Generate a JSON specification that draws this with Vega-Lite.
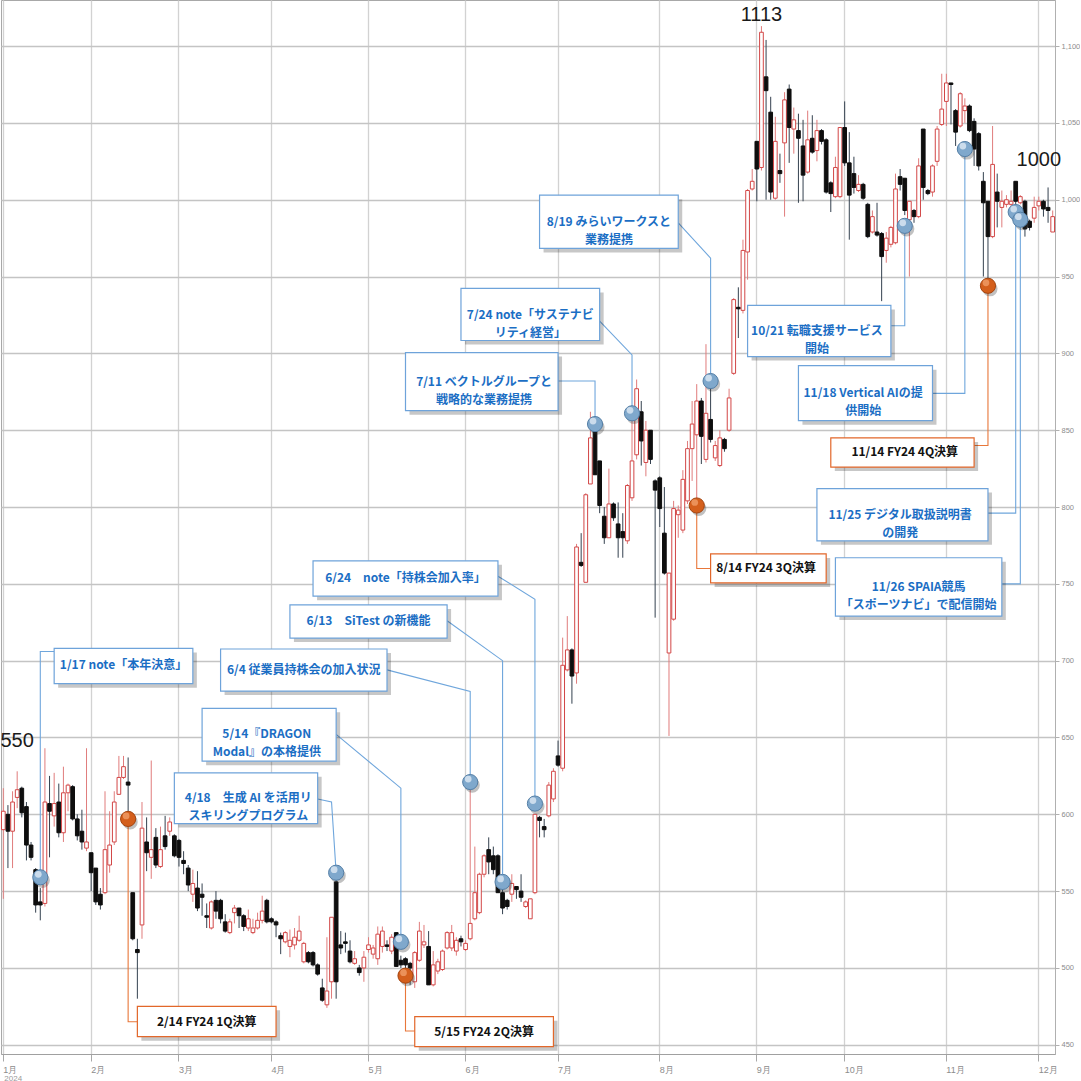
{
"$schema": "https://vega.github.io/schema/vega-lite/v6.json",
"width": 1054, "height": 1054, "padding": 0, "autosize": {"type": "pad"},
"background": "white",
"config": {"view": {"stroke": "#a8a8a8"}, "axis": {"labelFont": "Liberation Sans"}},
"datasets": {
"candles": [
{"d":"2024-01-04","o":590,"h":617,"l":545,"c":602},{"d":"2024-01-05","o":600,"h":606,"l":565,"c":589},{"d":"2024-01-09","o":589,"h":615,"l":565,"c":608},{"d":"2024-01-10","o":611,"h":628,"l":604,"c":616},{"d":"2024-01-11","o":617,"h":618,"l":598,"c":601},{"d":"2024-01-12","o":605,"h":608,"l":570,"c":580},{"d":"2024-01-15","o":580,"h":582,"l":570,"c":572},{"d":"2024-01-16","o":564,"h":565,"l":536,"c":541},{"d":"2024-01-17","o":543,"h":552,"l":531,"c":541},{"d":"2024-01-18","o":542,"h":643,"l":540,"c":608},
{"d":"2024-01-19","o":607,"h":625,"l":572,"c":602},{"d":"2024-01-22","o":599,"h":627,"l":592,"c":607},{"d":"2024-01-23","o":608,"h":620,"l":585,"c":588},{"d":"2024-01-24","o":588,"h":631,"l":582,"c":614},{"d":"2024-01-25","o":614,"h":620,"l":602,"c":619},{"d":"2024-01-26","o":618,"h":619,"l":596,"c":597},{"d":"2024-01-29","o":597,"h":600,"l":583,"c":586},{"d":"2024-01-30","o":589,"h":603,"l":577,"c":582},{"d":"2024-01-31","o":578,"h":643,"l":576,"c":582},
{"d":"2024-02-01","o":575,"h":575,"l":550,"c":562},{"d":"2024-02-02","o":565,"h":565,"l":541,"c":543},{"d":"2024-02-05","o":548,"h":552,"l":538,"c":541},{"d":"2024-02-06","o":549,"h":615,"l":548,"c":577},{"d":"2024-02-07","o":567,"h":602,"l":562,"c":580},{"d":"2024-02-08","o":582,"h":615,"l":580,"c":608},{"d":"2024-02-09","o":613,"h":638,"l":613,"c":624},{"d":"2024-02-13","o":624,"h":638,"l":623,"c":631},{"d":"2024-02-14","o":621,"h":637,"l":599,"c":619},{"d":"2024-02-15","o":549,"h":549,"l":518,"c":519},
{"d":"2024-02-16","o":512,"h":519,"l":480,"c":510},{"d":"2024-02-19","o":528,"h":608,"l":519,"c":591},{"d":"2024-02-20","o":582,"h":598,"l":563,"c":575},{"d":"2024-02-21","o":572,"h":635,"l":558,"c":577},{"d":"2024-02-22","o":585,"h":591,"l":565,"c":567},{"d":"2024-02-26","o":566,"h":592,"l":565,"c":577},{"d":"2024-02-27","o":586,"h":599,"l":577,"c":579},{"d":"2024-02-28","o":589,"h":598,"l":586,"c":595},{"d":"2024-02-29","o":586,"h":587,"l":572,"c":573},
{"d":"2024-03-01","o":583,"h":584,"l":566,"c":572},{"d":"2024-03-04","o":570,"h":576,"l":561,"c":568},{"d":"2024-03-05","o":565,"h":567,"l":550,"c":554},{"d":"2024-03-06","o":548,"h":564,"l":543,"c":555},{"d":"2024-03-07","o":552,"h":563,"l":537,"c":539},{"d":"2024-03-08","o":548,"h":555,"l":534,"c":546},{"d":"2024-03-11","o":534,"h":542,"l":526,"c":533},{"d":"2024-03-12","o":526,"h":544,"l":525,"c":543},{"d":"2024-03-13","o":544,"h":550,"l":532,"c":537},{"d":"2024-03-14","o":544,"h":545,"l":529,"c":532},
{"d":"2024-03-15","o":530,"h":535,"l":523,"c":524},{"d":"2024-03-18","o":523,"h":532,"l":522,"c":530},{"d":"2024-03-19","o":536,"h":541,"l":529,"c":539},{"d":"2024-03-21","o":539,"h":539,"l":526,"c":534},{"d":"2024-03-22","o":534,"h":535,"l":524,"c":527},{"d":"2024-03-25","o":526,"h":538,"l":524,"c":532},{"d":"2024-03-26","o":523,"h":532,"l":522,"c":526},{"d":"2024-03-27","o":526,"h":536,"l":525,"c":531},{"d":"2024-03-28","o":531,"h":547,"l":529,"c":537},{"d":"2024-03-29","o":544,"h":545,"l":529,"c":530},
{"d":"2024-04-01","o":532,"h":533,"l":529,"c":530},{"d":"2024-04-02","o":530,"h":531,"l":520,"c":528},{"d":"2024-04-03","o":521,"h":523,"l":509,"c":519},{"d":"2024-04-04","o":517,"h":524,"l":516,"c":523},{"d":"2024-04-05","o":514,"h":525,"l":507,"c":518},{"d":"2024-04-08","o":515,"h":526,"l":512,"c":520},{"d":"2024-04-09","o":518,"h":534,"l":517,"c":524},{"d":"2024-04-10","o":504,"h":517,"l":503,"c":516},{"d":"2024-04-11","o":510,"h":511,"l":503,"c":504},{"d":"2024-04-12","o":510,"h":511,"l":501,"c":502},
{"d":"2024-04-15","o":502,"h":503,"l":495,"c":496},{"d":"2024-04-16","o":487,"h":493,"l":478,"c":479},{"d":"2024-04-17","o":476,"h":520,"l":474,"c":485},{"d":"2024-04-18","o":491,"h":533,"l":480,"c":533},{"d":"2024-04-19","o":556,"h":562,"l":480,"c":491},{"d":"2024-04-22","o":515,"h":524,"l":509,"c":513},{"d":"2024-04-23","o":517,"h":523,"l":510,"c":516},{"d":"2024-04-24","o":511,"h":518,"l":503,"c":504},{"d":"2024-04-25","o":503,"h":511,"l":502,"c":506},{"d":"2024-04-26","o":500,"h":502,"l":495,"c":497},{"d":"2024-04-30","o":500,"h":511,"l":491,"c":507},
{"d":"2024-05-01","o":512,"h":520,"l":510,"c":515},{"d":"2024-05-02","o":509,"h":515,"l":506,"c":513},{"d":"2024-05-07","o":506,"h":527,"l":502,"c":522},{"d":"2024-05-08","o":514,"h":527,"l":510,"c":524},{"d":"2024-05-09","o":515,"h":518,"l":511,"c":514},{"d":"2024-05-10","o":511,"h":522,"l":509,"c":520},{"d":"2024-05-13","o":523,"h":523,"l":501,"c":501},{"d":"2024-05-14","o":505,"h":508,"l":500,"c":502},{"d":"2024-05-15","o":506,"h":507,"l":499,"c":502},{"d":"2024-05-16","o":503,"h":504,"l":489,"c":500},
{"d":"2024-05-17","o":491,"h":511,"l":487,"c":510},{"d":"2024-05-20","o":505,"h":530,"l":504,"c":524},{"d":"2024-05-21","o":515,"h":528,"l":513,"c":517},{"d":"2024-05-22","o":514,"h":524,"l":489,"c":489},{"d":"2024-05-23","o":489,"h":511,"l":488,"c":502},{"d":"2024-05-24","o":498,"h":506,"l":496,"c":504},{"d":"2024-05-27","o":499,"h":512,"l":498,"c":511},{"d":"2024-05-28","o":513,"h":524,"l":512,"c":523},{"d":"2024-05-29","o":513,"h":528,"l":511,"c":523},{"d":"2024-05-30","o":511,"h":520,"l":508,"c":518},{"d":"2024-05-31","o":519,"h":521,"l":514,"c":517},
{"d":"2024-06-03","o":512,"h":518,"l":511,"c":516},{"d":"2024-06-04","o":519,"h":621,"l":518,"c":529},{"d":"2024-06-05","o":532,"h":579,"l":531,"c":549},{"d":"2024-06-06","o":536,"h":562,"l":535,"c":561},{"d":"2024-06-07","o":561,"h":574,"l":559,"c":573},{"d":"2024-06-10","o":577,"h":585,"l":561,"c":569},{"d":"2024-06-11","o":573,"h":579,"l":561,"c":564},{"d":"2024-06-12","o":573,"h":574,"l":549,"c":549},{"d":"2024-06-13","o":549,"h":554,"l":535,"c":539},{"d":"2024-06-14","o":544,"h":545,"l":538,"c":540},
{"d":"2024-06-17","o":548,"h":561,"l":543,"c":555},{"d":"2024-06-18","o":553,"h":553,"l":545,"c":551},{"d":"2024-06-19","o":550,"h":561,"l":543,"c":546},{"d":"2024-06-20","o":540,"h":544,"l":539,"c":543},{"d":"2024-06-21","o":532,"h":545,"l":532,"c":545},{"d":"2024-06-24","o":549,"h":600,"l":548,"c":600},{"d":"2024-06-25","o":598,"h":599,"l":585,"c":596},{"d":"2024-06-26","o":592,"h":597,"l":585,"c":590},{"d":"2024-06-27","o":599,"h":621,"l":598,"c":619},{"d":"2024-06-28","o":610,"h":630,"l":608,"c":628},
{"d":"2024-07-01","o":638,"h":648,"l":631,"c":632},{"d":"2024-07-02","o":630,"h":715,"l":628,"c":697},{"d":"2024-07-03","o":694,"h":729,"l":693,"c":707},{"d":"2024-07-04","o":707,"h":708,"l":672,"c":690},{"d":"2024-07-05","o":692,"h":776,"l":685,"c":774},{"d":"2024-07-08","o":764,"h":783,"l":761,"c":762},{"d":"2024-07-09","o":751,"h":809,"l":751,"c":808},{"d":"2024-07-10","o":815,"h":862,"l":815,"c":845},{"d":"2024-07-11","o":857,"h":859,"l":821,"c":821},{"d":"2024-07-12","o":830,"h":830,"l":796,"c":801},
{"d":"2024-07-16","o":794,"h":800,"l":776,"c":780},{"d":"2024-07-17","o":780,"h":825,"l":780,"c":802},{"d":"2024-07-18","o":802,"h":803,"l":791,"c":793},{"d":"2024-07-19","o":789,"h":803,"l":767,"c":780},{"d":"2024-07-22","o":784,"h":796,"l":767,"c":780},{"d":"2024-07-23","o":778,"h":815,"l":776,"c":814},{"d":"2024-07-24","o":806,"h":865,"l":804,"c":830},{"d":"2024-07-25","o":834,"h":883,"l":831,"c":877},{"d":"2024-07-26","o":862,"h":869,"l":827,"c":843},{"d":"2024-07-29","o":829,"h":856,"l":820,"c":850},{"d":"2024-07-30","o":850,"h":850,"l":828,"c":831},{"d":"2024-07-31","o":817,"h":818,"l":728,"c":811},
{"d":"2024-08-01","o":819,"h":820,"l":787,"c":799},{"d":"2024-08-02","o":783,"h":813,"l":756,"c":757},{"d":"2024-08-05","o":705,"h":757,"l":651,"c":757},{"d":"2024-08-06","o":727,"h":804,"l":726,"c":799},{"d":"2024-08-07","o":795,"h":801,"l":780,"c":798},{"d":"2024-08-08","o":785,"h":824,"l":783,"c":818},{"d":"2024-08-09","o":804,"h":843,"l":802,"c":838},{"d":"2024-08-13","o":838,"h":869,"l":817,"c":854},{"d":"2024-08-14","o":847,"h":880,"l":802,"c":869},{"d":"2024-08-15","o":869,"h":871,"l":828,"c":846},
{"d":"2024-08-16","o":831,"h":906,"l":829,"c":861},{"d":"2024-08-19","o":857,"h":882,"l":842,"c":844},{"d":"2024-08-20","o":832,"h":843,"l":830,"c":840},{"d":"2024-08-21","o":827,"h":850,"l":826,"c":845},{"d":"2024-08-22","o":844,"h":845,"l":836,"c":838},{"d":"2024-08-23","o":850,"h":877,"l":849,"c":871},{"d":"2024-08-26","o":887,"h":936,"l":886,"c":935},{"d":"2024-08-27","o":930,"h":943,"l":910,"c":929},{"d":"2024-08-28","o":928,"h":974,"l":926,"c":967},{"d":"2024-08-29","o":966,"h":1007,"l":948,"c":1006},{"d":"2024-08-30","o":1007,"h":1020,"l":1006,"c":1012},
{"d":"2024-09-02","o":1038,"h":1038,"l":999,"c":1020},{"d":"2024-09-03","o":1021,"h":1113,"l":1019,"c":1109},{"d":"2024-09-04","o":1080,"h":1104,"l":1000,"c":1071},{"d":"2024-09-05","o":1057,"h":1067,"l":1000,"c":1005},{"d":"2024-09-06","o":1001,"h":1054,"l":1000,"c":1038},{"d":"2024-09-09","o":1019,"h":1030,"l":1011,"c":1017},{"d":"2024-09-10","o":1037,"h":1070,"l":989,"c":1065},{"d":"2024-09-11","o":1072,"h":1075,"l":1024,"c":1047},{"d":"2024-09-12","o":1046,"h":1060,"l":1030,"c":1052},{"d":"2024-09-13","o":1045,"h":1056,"l":998,"c":1040},
{"d":"2024-09-17","o":1035,"h":1052,"l":999,"c":1016},{"d":"2024-09-18","o":1018,"h":1058,"l":1017,"c":1039},{"d":"2024-09-19","o":1040,"h":1055,"l":1030,"c":1031},{"d":"2024-09-20","o":1032,"h":1052,"l":1025,"c":1045},{"d":"2024-09-24","o":1045,"h":1046,"l":1036,"c":1038},{"d":"2024-09-25","o":1039,"h":1040,"l":1004,"c":1005},{"d":"2024-09-26","o":1011,"h":1012,"l":992,"c":1004},{"d":"2024-09-27","o":1002,"h":1028,"l":1001,"c":1021},{"d":"2024-09-30","o":1002,"h":1047,"l":1001,"c":1047},
{"d":"2024-10-01","o":1047,"h":1064,"l":1022,"c":1024},{"d":"2024-10-02","o":1024,"h":1044,"l":974,"c":1003},{"d":"2024-10-03","o":1017,"h":1028,"l":1004,"c":1008},{"d":"2024-10-04","o":1006,"h":1016,"l":1005,"c":1010},{"d":"2024-10-07","o":1010,"h":1011,"l":1000,"c":1001},{"d":"2024-10-08","o":997,"h":998,"l":975,"c":976},{"d":"2024-10-09","o":979,"h":993,"l":978,"c":989},{"d":"2024-10-10","o":979,"h":998,"l":976,"c":977},{"d":"2024-10-11","o":978,"h":979,"l":934,"c":963},{"d":"2024-10-15","o":967,"h":979,"l":959,"c":975},{"d":"2024-10-16","o":971,"h":983,"l":969,"c":982},
{"d":"2024-10-17","o":972,"h":1017,"l":971,"c":1007},{"d":"2024-10-18","o":1015,"h":1020,"l":1006,"c":1010},{"d":"2024-10-21","o":1014,"h":1014,"l":990,"c":993},{"d":"2024-10-22","o":987,"h":999,"l":950,"c":999},{"d":"2024-10-23","o":993,"h":994,"l":985,"c":989},{"d":"2024-10-24","o":989,"h":1027,"l":988,"c":1022},{"d":"2024-10-25","o":1046,"h":1046,"l":1000,"c":1008},{"d":"2024-10-28","o":1006,"h":1007,"l":1003,"c":1004},{"d":"2024-10-29","o":1005,"h":1023,"l":1002,"c":1022},{"d":"2024-10-30","o":1025,"h":1048,"l":1022,"c":1046},{"d":"2024-10-31","o":1049,"h":1082,"l":1048,"c":1059},
{"d":"2024-11-01","o":1064,"h":1082,"l":1048,"c":1076},{"d":"2024-11-05","o":1076,"h":1076,"l":1049,"c":1075},{"d":"2024-11-06","o":1058,"h":1059,"l":1035,"c":1044},{"d":"2024-11-07","o":1048,"h":1070,"l":1047,"c":1069},{"d":"2024-11-08","o":1058,"h":1066,"l":1050,"c":1061},{"d":"2024-11-11","o":1061,"h":1062,"l":1044,"c":1045},{"d":"2024-11-12","o":1051,"h":1053,"l":1022,"c":1033},{"d":"2024-11-13","o":1043,"h":1044,"l":1019,"c":1022},{"d":"2024-11-14","o":1012,"h":1018,"l":950,"c":998},{"d":"2024-11-15","o":999,"h":999,"l":947,"c":976},
{"d":"2024-11-18","o":976,"h":1048,"l":975,"c":1023},{"d":"2024-11-19","o":1005,"h":1017,"l":982,"c":999},{"d":"2024-11-20","o":995,"h":1006,"l":982,"c":999},{"d":"2024-11-21","o":997,"h":1003,"l":995,"c":1000},{"d":"2024-11-22","o":997,"h":1006,"l":994,"c":999},{"d":"2024-11-25","o":1012,"h":1012,"l":987,"c":999},{"d":"2024-11-26","o":998,"h":1003,"l":997,"c":1002},{"d":"2024-11-27","o":999,"h":1000,"l":976,"c":981},{"d":"2024-11-28","o":986,"h":987,"l":980,"c":982},{"d":"2024-11-29","o":988,"h":1002,"l":985,"c":995},
{"d":"2024-12-02","o":996,"h":1002,"l":993,"c":999},{"d":"2024-12-03","o":999,"h":1000,"l":989,"c":994},{"d":"2024-12-04","o":995,"h":1008,"l":985,"c":993},{"d":"2024-12-05","o":979,"h":993,"l":979,"c":989}
],
"boxes": [
{"x1":"2024-01-22","x2":"2024-03-06","y1":708,"y2":685,"tx":"2024-02-13","ty":697,"txt":"1/17 note「本年決意」","k":"b"},
{"x1":"2024-02-29","x2":"2024-04-15","y1":627,"y2":594,"tx":"2024-03-25","ty":610.5,"txt":"4/18　生成 AI を活用リ\nスキリングプログラム","k":"b"},
{"x1":"2024-03-08","x2":"2024-04-19","y1":669,"y2":634.6,"tx":"2024-03-29","ty":652,"txt":"5/14『DRAGON\nModal』の本格提供","k":"b"},
{"x1":"2024-03-14","x2":"2024-05-09","y1":707.6,"y2":680.2,"tx":"2024-04-10","ty":694,"txt":"6/4 従業員持株会の加入状況","k":"b"},
{"x1":"2024-04-05","x2":"2024-05-28","y1":736.3,"y2":714.7,"tx":"2024-05-01","ty":725.5,"txt":"6/13　SiTest の新機能","k":"b"},
{"x1":"2024-04-12","x2":"2024-06-12","y1":765,"y2":742,"tx":"2024-05-15","ty":753.5,"txt":"6/24　note「持株会加入率」","k":"b"},
{"x1":"2024-05-15","x2":"2024-07-01","y1":900.5,"y2":862.7,"tx":"2024-06-07","ty":881.6,"txt":"7/11 ベクトルグループと\n戦略的な業務提携","k":"b"},
{"x1":"2024-05-31","x2":"2024-07-12","y1":942.3,"y2":908.4,"tx":"2024-06-21","ty":925.3,"txt":"7/24 note「サステナビ\nリティ経営」","k":"b"},
{"x1":"2024-06-25","x2":"2024-08-07","y1":1003,"y2":968.3,"tx":"2024-07-17","ty":985.6,"txt":"8/19 みらいワークスと\n業務提携","k":"b"},
{"x1":"2024-08-29","x2":"2024-10-16","y1":931.2,"y2":897.9,"tx":"2024-09-20","ty":914.5,"txt":"10/21 転職支援サービス\n開始","k":"b"},
{"x1":"2024-09-13","x2":"2024-10-29","y1":892,"y2":856.2,"tx":"2024-10-07","ty":874,"txt":"11/18 Vertical AIの提\n供開始","k":"b"},
{"x1":"2024-09-26","x2":"2024-11-12","y1":845,"y2":826,"tx":"2024-10-21","ty":835.5,"txt":"11/14 FY24 4Q決算","k":"o"},
{"x1":"2024-09-20","x2":"2024-11-15","y1":812,"y2":778,"tx":"2024-10-18","ty":795,"txt":"11/25 デジタル取扱説明書\nの開発","k":"b"},
{"x1":"2024-09-27","x2":"2024-11-20","y1":767,"y2":729,"tx":"2024-10-24","ty":748,"txt":"11/26 SPAIA競馬\n「スポーツナビ」で配信開始","k":"b"},
{"x1":"2024-08-19","x2":"2024-09-25","y1":769.5,"y2":750.6,"tx":"2024-09-04","ty":760,"txt":"8/14 FY24 3Q決算","k":"o"},
{"x1":"2024-02-16","x2":"2024-04-02","y1":475,"y2":455.3,"tx":"2024-03-11","ty":465,"txt":"2/14 FY24 1Q決算","k":"o"},
{"x1":"2024-05-17","x2":"2024-06-28","y1":468.3,"y2":448.8,"tx":"2024-06-07","ty":458.5,"txt":"5/15 FY24 2Q決算","k":"o"}
],
"links": [
{"id":1,"s":1,"d":"2024-01-17","p":559,"k":"b"},{"id":1,"s":2,"d":"2024-01-17","p":706,"k":"b"},{"id":1,"s":3,"d":"2024-01-22","p":706,"k":"b"},
{"id":2,"s":1,"d":"2024-04-19","p":562,"k":"b"},{"id":2,"s":2,"d":"2024-04-18","p":608,"k":"b"},{"id":2,"s":3,"d":"2024-04-15","p":610,"k":"b"},
{"id":3,"s":1,"d":"2024-05-14","p":517,"k":"b"},{"id":3,"s":2,"d":"2024-05-14","p":617,"k":"b"},{"id":3,"s":3,"d":"2024-04-19","p":652,"k":"b"},
{"id":4,"s":1,"d":"2024-06-04","p":621,"k":"b"},{"id":4,"s":2,"d":"2024-06-04","p":680,"k":"b"},{"id":4,"s":3,"d":"2024-05-09","p":694,"k":"b"},
{"id":5,"s":1,"d":"2024-06-13","p":556,"k":"b"},{"id":5,"s":2,"d":"2024-06-13","p":700,"k":"b"},{"id":5,"s":3,"d":"2024-05-28","p":726,"k":"b"},
{"id":6,"s":1,"d":"2024-06-24","p":607,"k":"b"},{"id":6,"s":2,"d":"2024-06-24","p":740,"k":"b"},{"id":6,"s":3,"d":"2024-06-12","p":755,"k":"b"},
{"id":7,"s":1,"d":"2024-07-11","p":854,"k":"b"},{"id":7,"s":2,"d":"2024-07-11","p":882,"k":"b"},{"id":7,"s":3,"d":"2024-07-01","p":882,"k":"b"},
{"id":8,"s":1,"d":"2024-07-24","p":861,"k":"b"},{"id":8,"s":2,"d":"2024-07-24","p":899,"k":"b"},{"id":8,"s":3,"d":"2024-07-12","p":921,"k":"b"},
{"id":9,"s":1,"d":"2024-08-19","p":882,"k":"b"},{"id":9,"s":2,"d":"2024-08-19","p":962,"k":"b"},{"id":9,"s":3,"d":"2024-08-07","p":985,"k":"b"},
{"id":10,"s":1,"d":"2024-10-21","p":983,"k":"b"},{"id":10,"s":2,"d":"2024-10-21","p":918,"k":"b"},{"id":10,"s":3,"d":"2024-10-16","p":918,"k":"b"},
{"id":11,"s":1,"d":"2024-11-08","p":1033,"k":"b"},{"id":11,"s":2,"d":"2024-11-08","p":874,"k":"b"},{"id":11,"s":3,"d":"2024-10-29","p":874,"k":"b"},
{"id":12,"s":1,"d":"2024-11-15","p":944,"k":"o"},{"id":12,"s":2,"d":"2024-11-15","p":840,"k":"o"},{"id":12,"s":3,"d":"2024-11-12","p":840,"k":"o"},
{"id":13,"s":1,"d":"2024-11-25","p":992,"k":"b"},{"id":13,"s":2,"d":"2024-11-25","p":796,"k":"b"},{"id":13,"s":3,"d":"2024-11-15","p":796,"k":"b"},
{"id":14,"s":1,"d":"2024-11-26","p":987,"k":"b"},{"id":14,"s":2,"d":"2024-11-26","p":750,"k":"b"},{"id":14,"s":3,"d":"2024-11-20","p":750,"k":"b"},
{"id":15,"s":1,"d":"2024-08-14","p":801,"k":"o"},{"id":15,"s":2,"d":"2024-08-14","p":760,"k":"o"},{"id":15,"s":3,"d":"2024-08-19","p":760,"k":"o"},
{"id":16,"s":1,"d":"2024-02-14","p":597,"k":"o"},{"id":16,"s":2,"d":"2024-02-14","p":465,"k":"o"},{"id":16,"s":3,"d":"2024-02-16","p":465,"k":"o"},
{"id":17,"s":1,"d":"2024-05-15","p":495,"k":"o"},{"id":17,"s":2,"d":"2024-05-15","p":459,"k":"o"},{"id":17,"s":3,"d":"2024-05-17","p":459,"k":"o"}
],
"markers": [
{"d":"2024-01-17","p":559,"k":"b"},{"d":"2024-02-14","p":597,"k":"o"},{"d":"2024-04-19","p":562,"k":"b"},{"d":"2024-05-14","p":517,"k":"b"},{"d":"2024-05-15","p":495,"k":"o"},{"d":"2024-06-04","p":621,"k":"b"},{"d":"2024-06-13","p":556,"k":"b"},{"d":"2024-06-24","p":607,"k":"b"},{"d":"2024-07-11","p":854,"k":"b"},{"d":"2024-07-24","p":861,"k":"b"},{"d":"2024-08-14","p":801,"k":"o"},{"d":"2024-08-19","p":882,"k":"b"},{"d":"2024-10-21","p":983,"k":"b"},{"d":"2024-11-08","p":1033,"k":"b"},{"d":"2024-11-15","p":944,"k":"o"},{"d":"2024-11-25","p":992,"k":"b"},{"d":"2024-11-26","p":987,"k":"b"}
],
"bigtext": [
{"d":"2024-01-10","p":647.6,"t":"550"},{"d":"2024-09-03","p":1120,"t":"1113"},{"d":"2024-12-02","p":1025.7,"t":"1000"}
],
"yeartext": [{"d":"2024-01-04","p":428,"t":"2024"}]
},
"layer": [
{"data": {"name": "candles"}, "mark": {"type": "rule", "strokeWidth": 1},
 "encoding": {
  "x": {"field": "d", "type": "ordinal", "title": null, "scale": {"paddingInner": 0.2, "paddingOuter": 0.1},
   "axis": {"values": ["2024-01-04","2024-02-01","2024-03-01","2024-04-01","2024-05-01","2024-06-03","2024-07-01","2024-08-01","2024-09-02","2024-10-01","2024-11-01","2024-12-02"],
    "labelExpr": "toNumber(substring(datum.value,5,7)) + '月'", "labelAngle": 0, "labelAlign": "left", "labelFontSize": 9, "labelColor": "#8c8c8c", "labelPadding": 4,
    "tickColor": "#a8a8a8", "tickSize": 7, "domainColor": "#a0a0a0", "grid": true, "gridColor": "#d2d2d2", "gridWidth": 1.3}},
  "y": {"field": "l", "type": "quantitative", "title": null, "scale": {"domain": [444, 1130], "nice": false, "zero": false},
   "axis": {"orient": "right", "values": [450,500,550,600,650,700,750,800,850,900,950,1000,1050,1100], "format": ",.0f", "labelFontSize": 7.5, "labelColor": "#8c8c8c", "labelPadding": 2, "tickSize": 4, "tickColor": "#b0b0b0", "domainColor": "#b0b0b0", "grid": true, "gridColor": "#c4c4c4", "gridWidth": 1.5}},
  "y2": {"field": "h"},
  "color": {"condition": {"test": "datum.c >= datum.o", "value": "#e07c7c"}, "value": "#34414f"}
 }},
{"data": {"name": "candles"}, "mark": {"type": "bar", "strokeWidth": 1},
 "encoding": {
  "x": {"field": "d", "type": "ordinal", "title": null},
  "y": {"field": "o", "type": "quantitative", "title": null},
  "y2": {"field": "c"},
  "fill": {"condition": {"test": "datum.c >= datum.o", "value": "#ffffff"}, "value": "#0e0e0e"},
  "stroke": {"condition": {"test": "datum.c >= datum.o", "value": "#d24646"}, "value": "#0e0e0e"}
 }},
{"data": {"name": "links"}, "mark": {"type": "line", "strokeWidth": 1.1},
 "encoding": {
  "x": {"field": "d", "type": "ordinal", "title": null},
  "y": {"field": "p", "type": "quantitative", "title": null},
  "detail": {"field": "id"},
  "order": {"field": "s"},
  "color": {"condition": {"test": "datum.k == 'o'", "value": "#e8773a"}, "value": "#6fa6dc"}
 }},
{"data": {"name": "boxes"}, "mark": {"type": "rect", "fill": "#000000", "opacity": 0.22, "xOffset": 4, "x2Offset": 4, "yOffset": 4, "y2Offset": 4},
 "encoding": {
  "x": {"field": "x1", "type": "ordinal", "title": null}, "x2": {"field": "x2"},
  "y": {"field": "y1", "type": "quantitative", "title": null}, "y2": {"field": "y2"}
 }},
{"data": {"name": "boxes"}, "mark": {"type": "rect", "fill": "#ffffff", "strokeWidth": 1.2},
 "encoding": {
  "x": {"field": "x1", "type": "ordinal", "title": null}, "x2": {"field": "x2"},
  "y": {"field": "y1", "type": "quantitative", "title": null}, "y2": {"field": "y2"},
  "stroke": {"condition": {"test": "datum.k == 'o'", "value": "#e2672a"}, "value": "#6ea3da"}
 }},
{"data": {"name": "boxes"}, "mark": {"type": "text", "font": "Noto Sans CJK JP", "fontWeight": "bold", "fontSize": 12, "lineHeight": 18, "lineBreak": "\n", "align": "center", "baseline": "middle"},
 "encoding": {
  "x": {"field": "tx", "type": "ordinal", "title": null},
  "y": {"field": "ty", "type": "quantitative", "title": null},
  "text": {"field": "txt"},
  "color": {"condition": {"test": "datum.k == 'o'", "value": "#111111"}, "value": "#1b6ec4"}
 }},
{"data": {"name": "markers"}, "mark": {"type": "point", "filled": true, "size": 230, "opacity": 0.3, "color": "#333333", "xOffset": 2, "yOffset": 3},
 "encoding": {
  "x": {"field": "d", "type": "ordinal", "title": null},
  "y": {"field": "p", "type": "quantitative", "title": null}
 }},
{"data": {"name": "markers"}, "mark": {"type": "point", "filled": true, "size": 230, "opacity": 1, "strokeWidth": 1},
 "encoding": {
  "x": {"field": "d", "type": "ordinal", "title": null},
  "y": {"field": "p", "type": "quantitative", "title": null},
  "fill": {"condition": {"test": "datum.k == 'o'", "value": "#d45f1c"}, "value": "#7fa8cc"},
  "stroke": {"condition": {"test": "datum.k == 'o'", "value": "#a3440f"}, "value": "#557fa6"}
 }},
{"data": {"name": "markers"}, "mark": {"type": "point", "filled": true, "size": 45, "opacity": 0.75, "xOffset": -2, "yOffset": -3},
 "encoding": {
  "x": {"field": "d", "type": "ordinal", "title": null},
  "y": {"field": "p", "type": "quantitative", "title": null},
  "fill": {"condition": {"test": "datum.k == 'o'", "value": "#f3a16e"}, "value": "#e4eef7"}
 }},
{"data": {"name": "bigtext"}, "mark": {"type": "text", "font": "Liberation Sans", "fontSize": 20, "align": "center", "baseline": "middle", "color": "#1a1a1a"},
 "encoding": {
  "x": {"field": "d", "type": "ordinal", "title": null},
  "y": {"field": "p", "type": "quantitative", "title": null},
  "text": {"field": "t"}
 }},
{"data": {"name": "yeartext"}, "mark": {"type": "text", "font": "Liberation Sans", "fontSize": 8, "align": "left", "baseline": "middle", "color": "#9a9a9a", "dx": 1},
 "encoding": {
  "x": {"field": "d", "type": "ordinal", "title": null},
  "y": {"field": "p", "type": "quantitative", "title": null},
  "text": {"field": "t"}
 }}
]
}
